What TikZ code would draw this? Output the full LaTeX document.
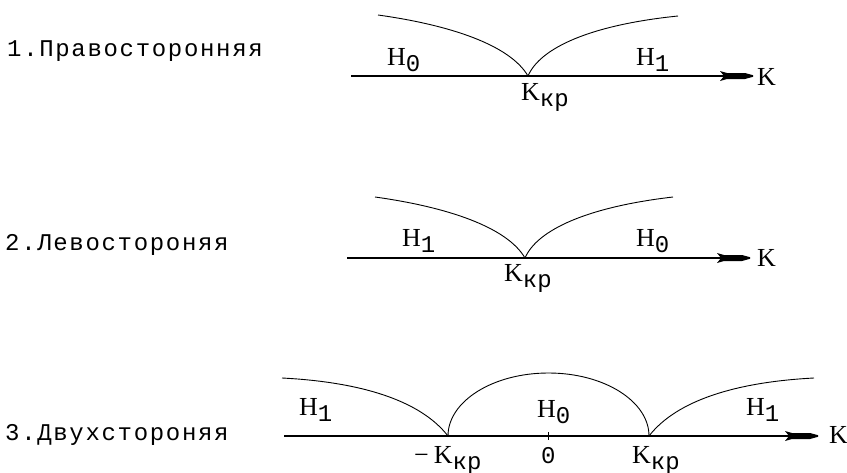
\documentclass[tikz,border=0pt]{standalone}
\usepackage{fontspec}
\newfontfamily\monof[LetterSpace=7]{Liberation Mono}
\newfontfamily\monosub{Liberation Mono}
\newfontfamily\seriff{Liberation Serif}
\newcommand\Hlab[1]{{\fontsize{26}{30}\selectfont\seriff H}\raisebox{-6pt}{\fontsize{24}{28}\selectfont\monosub #1}}
\newcommand\Kkr{{\fontsize{26}{30}\selectfont\seriff K}\raisebox{-6pt}{\fontsize{24}{28}\selectfont\monosub кр}}
\newcommand\dartat[1]{\fill[shift={(#1)}] (-33,-5) -- (-26,-3) -- (-8,-3) -- (0,-0.8) -- (0,0.8) -- (-8,3) -- (-26,3) -- (-33,5) -- (-29,0) -- cycle;}
\tikzset{
  lab/.style={inner sep=0pt, anchor=base west, font=\fontsize{24}{28}\selectfont\monof},
  sym/.style={inner sep=0pt, anchor=base west, font=\fontsize{26}{30}\selectfont\seriff},
  axisline/.style={line width=1.3pt},
  curve/.style={line width=0.9pt},
}
\begin{document}
\begin{tikzpicture}[x=1pt,y=-1pt]
\useasboundingbox (0,0) rectangle (847,472);
% ---------- 1 ----------
\node[lab] (t1) at (7,56) {1.Правосторонняя};
\coordinate (a1s) at (351,76);
\coordinate (a1e) at (753,76);
\coordinate (k1) at (528,76);
\coordinate (c1a) at (378,15);
\coordinate (c1b) at (678,16);
\draw[axisline] (a1s) -- (a1e);
\dartat{a1e}
\draw[curve] (c1a) .. controls (450,25) and (510,45) .. (k1);
\draw[curve] (k1) .. controls (540,48) and (590,25) .. (c1b);
\node[sym] (h10) at (387,65) {\Hlab{0}};
\node[sym] (h11) at (636,65) {\Hlab{1}};
\node[sym] (kk1) at (521,100) {\Kkr};
\node[sym] (K1) at (757,85) {K};
% ---------- 2 ----------
\node[lab] (t2) at (5,250) {2.Левостороняя};
\coordinate (a2s) at (347,258);
\coordinate (a2e) at (750,258);
\coordinate (k2) at (525,258);
\coordinate (c2a) at (375,197);
\coordinate (c2b) at (673,197);
\draw[axisline] (a2s) -- (a2e);
\dartat{a2e}
\draw[curve] (c2a) .. controls (447,207) and (507,227) .. (k2);
\draw[curve] (k2) .. controls (537,230) and (587,207) .. (c2b);
\node[sym] (h21) at (402,246) {\Hlab{1}};
\node[sym] (h20) at (636,246) {\Hlab{0}};
\node[sym] (kk2) at (504,281) {\Kkr};
\node[sym] (K2) at (757,266) {K};
% ---------- 3 ----------
\node[lab] (t3) at (5,440) {3.Двухстороняя};
\coordinate (a3s) at (284,436);
\coordinate (a3e) at (818,436);
\coordinate (k3a) at (448,436);
\coordinate (k3b) at (649,436);
\coordinate (c3a) at (282,378);
\coordinate (c3b) at (814,378);
\coordinate (z3a) at (548.5,432);
\coordinate (z3b) at (548.5,440);
\draw[axisline] (a3s) -- (a3e);
\dartat{a3e}
\draw[axisline] (z3a) -- (z3b);
\draw[curve] (c3a) .. controls (360,382) and (420,400) .. (k3a);
\draw[curve] (k3a) arc[start angle=180, end angle=360, x radius=100.5, y radius=63];
\draw[curve] (k3b) .. controls (677,400) and (737,382) .. (c3b);
\node[sym] (h31) at (299,415) {\Hlab{1}};
\node[sym] (h30) at (537,417) {\Hlab{0}};
\node[sym] (h32) at (746,415) {\Hlab{1}};
\node[sym] (kk3a) at (414,463) {−\hspace{5pt}\Kkr};
\node[sym] (z3) at (541,463) {\fontsize{24}{28}\selectfont\monosub 0};
\node[sym] (kk3b) at (632,463) {\Kkr};
\node[sym] (K3) at (829,443) {K};
\end{tikzpicture}
\end{document}
